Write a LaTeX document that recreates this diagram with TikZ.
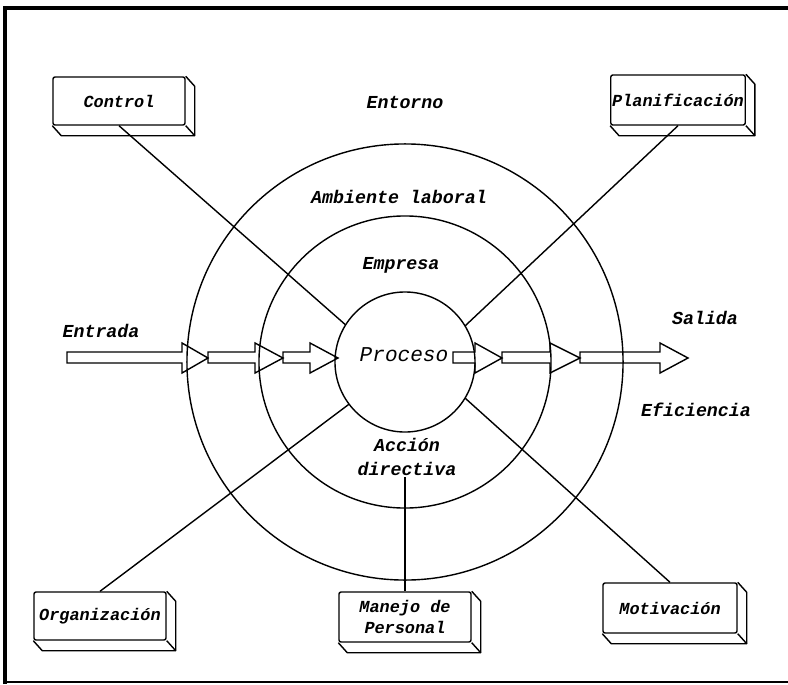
\documentclass[tikz,border=0pt]{standalone}
\usepackage{fontspec}
\newfontfamily\rotulo{Liberation Mono}
\usepackage{tikz}
\tikzstyle{anillo} = [circle, draw=black, line width=1pt, inner sep=0pt, outer sep=0pt]
\tikzstyle{caja} = [rectangle, rounded corners=1.5pt, draw=black, line width=1pt, fill=white, minimum width=3.3cm, minimum height=1.2cm, align=center, inner sep=1pt, font=\rotulo\bfseries\itshape\fontsize{12}{15}\selectfont]
\tikzstyle{etiqueta} = [align=center, inner sep=1pt, font=\rotulo\bfseries\itshape\fontsize{13}{17}\selectfont]
\tikzstyle{linea} = [line width=1pt]
% block arrow: start, head base, tip
\newcommand{\flecha}[3]{\draw[line width=1pt, line join=miter] (#1,352) -- (#2,352) -- (#2,343) -- (#3,358) -- (#2,373) -- (#2,363) -- (#1,363) -- cycle;}

\begin{document}
\begin{tikzpicture}[x=0.025cm, y=-0.025cm]
\useasboundingbox (0,0) rectangle (788,684);

% frame
\draw[line width=3pt] (5,684) -- (5,8) -- (788,8);
\draw[line width=0.8pt] (5,682) -- (788,682);

% rings
\node (ambiente) [anillo, minimum size=10.9cm] at (405,362) {};
\node (empresa) [anillo, minimum size=7.3cm] at (405,362) {};
\node (proceso) [anillo, minimum size=3.5cm] at (405,362) {};

% labels
\node (entorno) [etiqueta] at (405,103) {Entorno};
\node (laboral) [etiqueta] at (399,197) {Ambiente laboral};
\node (txtempresa) [etiqueta] at (401,265) {Empresa};
\node (txtproceso) [etiqueta, font=\rotulo\itshape\fontsize{15}{17}\selectfont] at (404,355) {Proceso};
\node (entrada) [etiqueta] at (101,331) {Entrada};
\node (salida) [etiqueta] at (705,318) {Salida};
\node (eficiencia) [etiqueta] at (696,410) {Eficiencia};
\node (accion) [etiqueta] at (407,457) {Acción\\directiva};

% boxes
\node (control) [caja] at (119,101) {Control};
\node (planif) [caja, minimum height=1.25cm] at (678,100) {Planificación};
\node (organiz) [caja] at (100,616) {Organización};
\node (manejo) [caja, minimum height=1.25cm] at (405,617) {Manejo de\\Personal};
\node (motiv) [caja, minimum width=3.35cm, minimum height=1.25cm] at (670,608) {Motivación};

\foreach \b in {control,planif,organiz,manejo,motiv}{
  \draw[line width=1pt, line join=round] (\b.north east) -- ([shift={(9,10)}]\b.north east) -- ([shift={(9,10)}]\b.south east) -- ([shift={(9,10)}]\b.south west) -- (\b.south west);
  \draw[line width=1pt] (\b.south east) -- ([shift={(9,10)}]\b.south east);
}

% Arrows
\flecha{67}{182}{208}
\flecha{208}{255}{283}
\flecha{283}{310}{338}
\flecha{453}{475}{502}
\flecha{502}{550}{580}
\flecha{580}{660}{688}

% lines
\draw[linea] (control.south) -- (proceso.148);
\draw[linea] (planif.south) -- (proceso.31);
\draw[linea] (organiz.north) -- (proceso.217);
\draw[linea] (motiv.north) -- (proceso.329);
\draw[linea] (manejo.north |- accion.south) -- (manejo.north);

\end{tikzpicture}
\end{document}
